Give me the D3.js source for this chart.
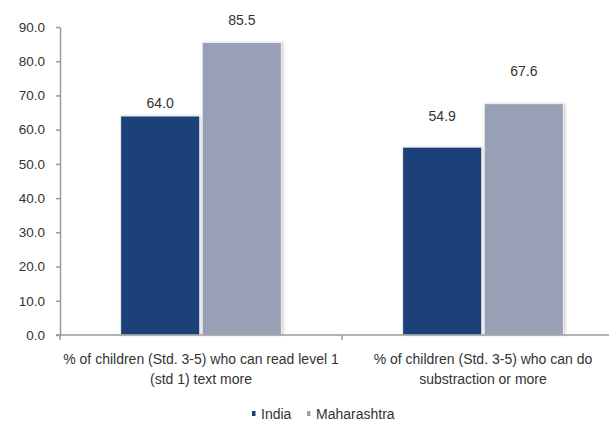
<!DOCTYPE html>
<html><head><meta charset="utf-8">
<script src="https://cdn.jsdelivr.net/npm/d3@7"></script>
<style>
body{margin:0;background:#fff;}
svg{display:block;font-family:"Liberation Sans",Arial,sans-serif;}
</style></head>
<body><svg id="c" width="609" height="426"></svg>
<script>
const categories = [
  ["% of children (Std. 3-5) who can read level 1", "(std 1) text more"],
  ["% of children (Std. 3-5) who can do", "substraction or more"]
];
const seriesNames = ["India", "Maharashtra"];
const india = [64.0, 54.9];
const maharashtra = [85.5, 67.6];
const yTicks = [0, 10, 20, 30, 40, 50, 60, 70, 80, 90];

const colors = {India: "#1b4078", Maharashtra: "#97a0b5"};
const labelGap = {India: [13, 31], Maharashtra: [22, 33]};

const svg = d3.select("#c");
const mLeft = 60, mRight = 624, mTop = 27, mBottom = 335;
const catKeys = categories.map((c, i) => i);
const x0 = d3.scaleBand().domain(catKeys).range([mLeft, mRight]).padding(0);
const bw = x0.bandwidth();
const gw = bw * 0.57;
const x1 = d3.scaleBand().domain(seriesNames).range([(bw - gw) / 2, (bw + gw) / 2]).paddingInner(0.03);
const y = d3.scaleLinear().domain([0, 90]).range([mBottom, mTop]);

const data = seriesNames.map(s => ({name: s, values: s === "India" ? india : maharashtra}));

const defs = svg.append("defs");
const f = defs.append("filter").attr("id", "sh").attr("x", "-10%").attr("y", "-10%").attr("width", "130%").attr("height", "130%");
f.append("feDropShadow").attr("dx", 1.5).attr("dy", 0).attr("stdDeviation", 1).attr("flood-color", "#000").attr("flood-opacity", 0.18);

const g = svg.append("g");
catKeys.forEach(ci => {
  data.forEach(s => {
    const v = s.values[ci];
    g.append("rect")
      .attr("x", x0(ci) + x1(s.name))
      .attr("y", y(v))
      .attr("width", x1.bandwidth())
      .attr("height", y(0) - y(v))
      .attr("fill", colors[s.name])
      .attr("stroke", "#f0f0f0")
      .attr("stroke-width", 1)
      .attr("filter", "url(#sh)");
    g.append("text")
      .attr("x", x0(ci) + x1(s.name) + x1.bandwidth() / 2)
      .attr("y", y(v) - labelGap[s.name][ci])
      .attr("dy", "0.35em")
      .attr("text-anchor", "middle")
      .attr("font-size", 14)
      .attr("fill", "#333")
      .text(d3.format(".1f")(v));
  });
});

const yAxis = svg.append("g").attr("transform", `translate(${mLeft},0)`)
  .call(d3.axisLeft(y).tickValues(yTicks).tickFormat(d3.format(".1f")).tickSize(4).tickSizeOuter(0));
yAxis.select(".domain").attr("stroke", "#9a9a9a").attr("stroke-width", 1.5);
yAxis.selectAll(".tick line").attr("stroke", "#9a9a9a").attr("stroke-width", 1.5);
yAxis.selectAll(".tick text").attr("font-size", 13.5).attr("fill", "#333").attr("x", -15)
  .attr("font-family", "Liberation Sans, Arial, sans-serif");

const xAxisG = svg.append("g");
xAxisG.append("line").attr("x1", mLeft - 4).attr("x2", mRight).attr("y1", mBottom).attr("y2", mBottom)
  .attr("stroke", "#9a9a9a").attr("stroke-width", 1.5);
catKeys.concat([catKeys.length]).forEach(i => {
  const xx = i < catKeys.length ? x0(i) : x0(i - 1) + bw;
  xAxisG.append("line").attr("x1", xx).attr("x2", xx).attr("y1", mBottom).attr("y2", mBottom + 5)
    .attr("stroke", "#9a9a9a").attr("stroke-width", 1.5);
});
catKeys.forEach(ci => {
  const t = svg.append("text").attr("text-anchor", "middle").attr("font-size", 14).attr("fill", "#333");
  categories[ci].forEach((line, li) => {
    t.append("tspan").attr("x", x0(ci) + bw / 2).attr("y", 364 + li * 19.5).text(line);
  });
});

const legend = svg.append("g");
const lx = [252, 307];
seriesNames.forEach((s, i) => {
  legend.append("rect").attr("x", lx[i]).attr("y", 411).attr("width", 3.5).attr("height", 5).attr("fill", colors[s]);
  legend.append("text").attr("x", lx[i] + 9).attr("y", 419).attr("font-size", 14).attr("fill", "#333").text(s);
});
</script></body></html>
